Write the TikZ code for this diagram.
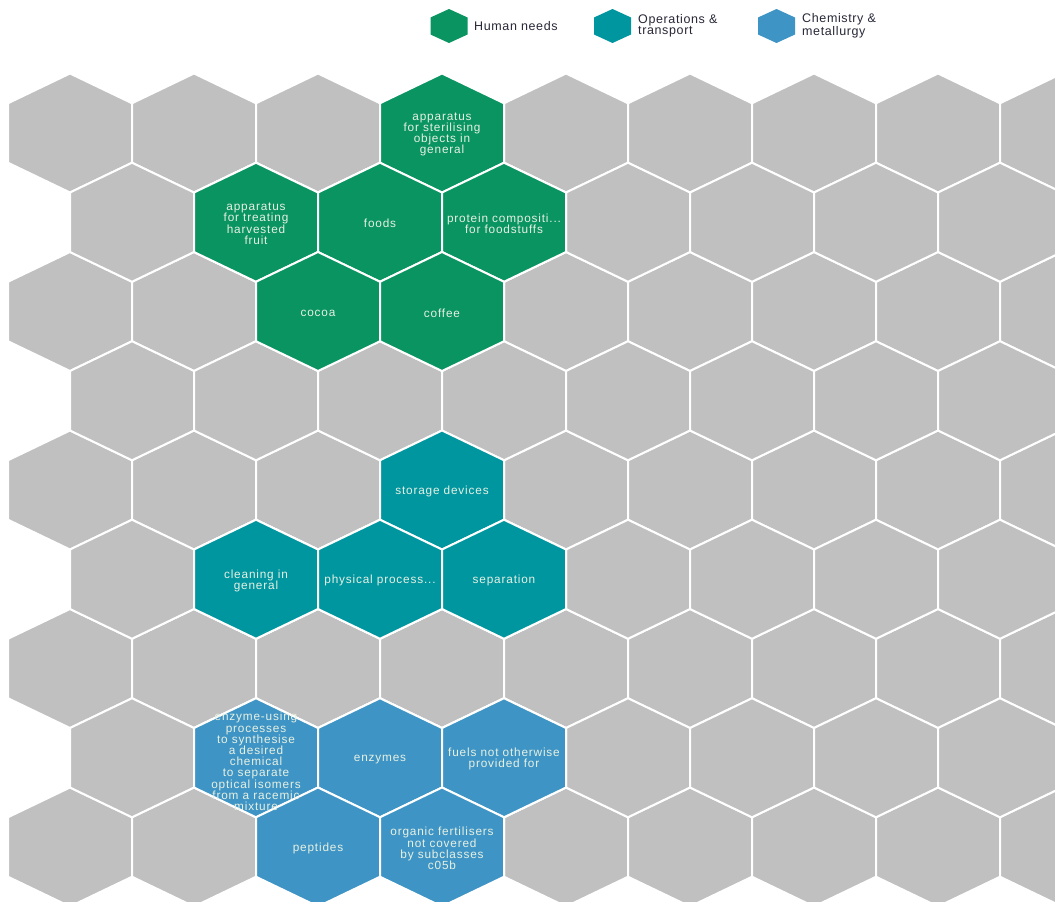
\documentclass[tikz,border=0pt]{standalone}
\usepackage{fontspec}
\setmainfont{Liberation Sans}
\newfontfamily\hexfont[LetterSpace=7]{Liberation Sans}
\newfontfamily\legfont[LetterSpace=5]{Liberation Sans}
\definecolor{hgray}{RGB}{192,192,192}
\definecolor{hgreen}{RGB}{9,148,97}
\definecolor{hteal}{RGB}{0,150,160}
\definecolor{hblue}{RGB}{62,149,197}
\definecolor{htext}{RGB}{232,240,226}
\definecolor{legtext}{RGB}{40,40,56}
\tikzset{
  hexcell/.style={fill=#1, draw=white, line width=2pt, line join=miter},
  leghexcell/.style={fill=#1, draw=none},
  hexlabel/.style={text=htext, font=\hexfont\fontsize{11.8}{11.2}\selectfont, align=center, inner sep=0pt, yshift=-1.5pt},
  legendlabel/.style={text=legtext, font=\legfont\fontsize{12.5}{11}\selectfont, align=left, anchor=west, inner sep=0pt}
}
\newcommand\hexat[3]{%
  \path[hexcell=#3] ({#1},{#2}) ++(0,-59.5) -- ++(62,29.75) -- ++(0,59.5) -- ++(-62,29.75) -- ++(-62,-29.75) -- ++(0,-59.5) -- cycle;}
\newcommand\leghexat[3]{%
  \path[leghexcell=#3] ({#1},{#2}) ++(0,-17) -- ++(18.5,8.5) -- ++(0,17) -- ++(-18.5,8.5) -- ++(-18.5,-8.5) -- ++(0,-17) -- cycle;}
\begin{document}
\begin{tikzpicture}[x=1pt,y=-1pt]
\useasboundingbox (0,0) rectangle (1055,902);
\fill[white] (0,0) rectangle (1055,902);
\clip (0,0) rectangle (1055,902);
% gray grid
\foreach \r in {0,2,4,6,8} {\foreach \k in {0,...,8} {\hexat{70+124*\k}{133+89.25*\r}{hgray}}}
\foreach \r in {1,3,5,7} {\foreach \k in {0,...,7} {\hexat{132+124*\k}{133+89.25*\r}{hgray}}}
% Human needs
\hexat{442}{133}{hgreen}
\hexat{256}{222.25}{hgreen}
\hexat{380}{222.25}{hgreen}
\hexat{504}{222.25}{hgreen}
\hexat{318}{311.5}{hgreen}
\hexat{442}{311.5}{hgreen}
\node[hexlabel] (sterilising) at (442,133) {apparatus\\for sterilising\\objects in\\general};
\node[hexlabel] (fruit) at (256,222.25) {apparatus\\for treating\\harvested\\fruit};
\node[hexlabel] (foods) at (380,222.25) {foods};
\node[hexlabel] (protein) at (504,222.25) {protein compositi...\\for foodstuffs};
\node[hexlabel] (cocoa) at (318,311.5) {cocoa};
\node[hexlabel] (coffee) at (442,311.5) {coffee};
% Operations & transport
\hexat{442}{490}{hteal}
\hexat{256}{579.25}{hteal}
\hexat{380}{579.25}{hteal}
\hexat{504}{579.25}{hteal}
\node[hexlabel] (storage) at (442,490) {storage devices};
\node[hexlabel] (cleaning) at (256,579.25) {cleaning in\\general};
\node[hexlabel] (physical) at (380,579.25) {physical process...};
\node[hexlabel] (separation) at (504,579.25) {separation};
% Chemistry & metallurgy
\hexat{256}{757.75}{hblue}
\hexat{380}{757.75}{hblue}
\hexat{504}{757.75}{hblue}
\hexat{318}{847}{hblue}
\hexat{442}{847}{hblue}
\node[hexlabel] (enzymeusing) at (256,760) {enzyme-using\\processes\\to synthesise\\a desired\\chemical\\to separate\\optical isomers\\from a racemic\\mixture};
\node[hexlabel] (enzymes) at (380,757.75) {enzymes};
\node[hexlabel] (fuels) at (504,757.75) {fuels not otherwise\\provided for};
\node[hexlabel] (peptides) at (318,847) {peptides};
\node[hexlabel] (fertilisers) at (442,847) {organic fertilisers\\not covered\\by subclasses\\c05b};
% legend
\leghexat{449}{26}{hgreen}
\leghexat{612.5}{26}{hteal}
\leghexat{776.5}{26}{hblue}
\node[legendlabel] (leghuman) at (474,26) {Human needs};
\node[legendlabel] (legops) at (638,26) {Operations \&\\transport};
\node[legendlabel] (legchem) at (802,26) {Chemistry \&\\metallurgy};
\end{tikzpicture}
\end{document}
